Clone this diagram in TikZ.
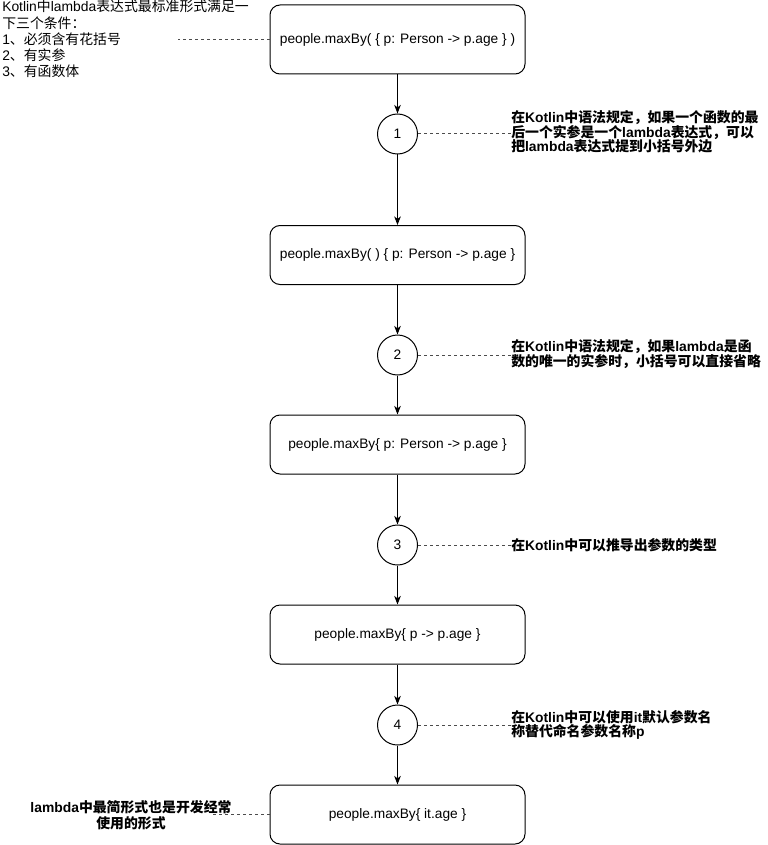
\documentclass[tikz,border=0pt]{standalone}
\usepackage{fontspec}
\setmainfont{Liberation Sans}
\newfontfamily\cjk{Noto Sans CJK SC}
\newcommand\zh[1]{{\cjk #1}}
\usetikzlibrary{arrows.meta}
\begin{document}
\begin{tikzpicture}[x=0.75pt,y=-0.75pt,
  box/.style={draw, rounded corners=7.5pt, line width=0.75pt, minimum width=191.25pt, minimum height=44.25pt, inner sep=0pt, font=\fontsize{10.3}{12}\selectfont},
  circ/.style={draw, circle, line width=0.75pt, minimum size=30pt, inner sep=0pt, font=\fontsize{10.3}{12}\selectfont},
  flow/.style={-{Stealth[length=6.5pt,width=5pt,inset=2pt]}, line width=0.75pt},
  note/.style={draw=black!70, dash pattern=on 2.25pt off 2.25pt, line width=0.75pt},
  ann/.style={anchor=west, inner sep=0pt, align=left, font=\fontsize{10.4}{10.9}\selectfont\bfseries}]
\useasboundingbox (0,0) rectangle (767,845);

\node[box, minimum height=51.75pt] (b1) at (397.5,39.5) {people.maxBy( \{ p: Person -> p.age \} )};
\node[circ] (c1) at (397.5,134) {1};
\node[box] (b2) at (397.5,255) {people.maxBy( ) \{ p: Person -> p.age \}};
\node[circ] (c2) at (397.5,355) {2};
\node[box] (b3) at (397.5,444.5) {people.maxBy\{ p: Person -> p.age \}};
\node[circ] (c3) at (397.5,545) {3};
\node[box] (b4) at (397.5,634.5) {people.maxBy\{ p -> p.age \}};
\node[circ] (c4) at (397.5,725) {4};
\node[box] (b5) at (397.5,814.5) {people.maxBy\{ it.age \}};

\draw[flow] (b1) -- (c1);
\draw[flow] (c1) -- (b2);
\draw[flow] (b2) -- (c2);
\draw[flow] (c2) -- (b3);
\draw[flow] (b3) -- (c3);
\draw[flow] (c3) -- (b4);
\draw[flow] (b4) -- (c4);
\draw[flow] (c4) -- (b5);

\node[anchor=north west, inner sep=0pt, align=left, font=\fontsize{10.4}{12.2}\selectfont] (t0) at (2,0)
  {Kotlin\zh{中}lambda\zh{表达式最标准形式满足一}\\\zh{下三个条件：}\\1\zh{、必须含有花括号}\\2\zh{、有实参}\\3\zh{、有函数体}};
\coordinate (t0e) at (178,40);
\draw[note] (b1.west |- t0e) -- (t0e);

\node[ann] (a1) at (511,132) {\zh{在}Kotlin\zh{中语法规定，如果一个函数的最}\\\zh{后一个实参是一个}lambda\zh{表达式，可以}\\\zh{把}lambda\zh{表达式提到小括号外边}};
\node[ann] (a2) at (511,354) {\zh{在}Kotlin\zh{中语法规定，如果}lambda\zh{是函}\\\zh{数的唯一的实参时，小括号可以直接省略}};
\node[ann] (a3) at (511,545) {\zh{在}Kotlin\zh{中可以推导出参数的类型}};
\node[ann] (a4) at (511,725) {\zh{在}Kotlin\zh{中可以使用}it\zh{默认参数名}\\\zh{称替代命名参数名称}p};

\draw[note] (c1.east) -- (c1.east -| a1.west);
\draw[note] (c2.east) -- (c2.east -| a2.west);
\draw[note] (c3.east) -- (c3.east -| a3.west);
\draw[note] (c4.east) -- (c4.east -| a4.west);

\node[inner sep=0pt, align=center, font=\fontsize{10.4}{12}\selectfont\bfseries] (t5) at (131,815)
  {lambda\zh{中最简形式也是开发经常}\\\zh{使用的形式}};
\coordinate (t5e) at (210,814.5);
\draw[note] (b5.west) -- (t5e);
\end{tikzpicture}
\end{document}
